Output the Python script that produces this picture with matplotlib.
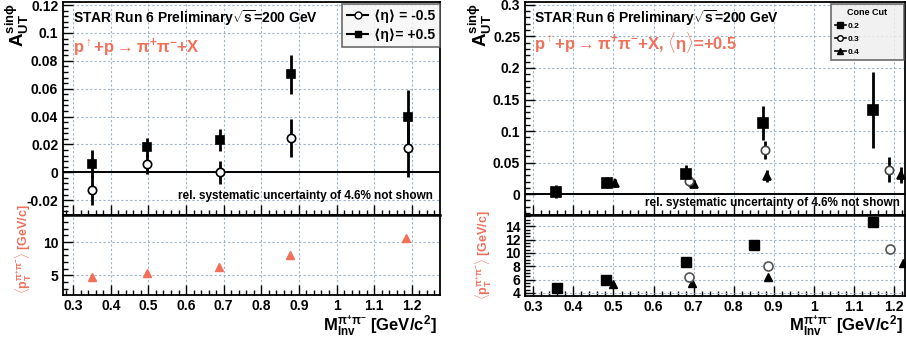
import matplotlib
matplotlib.use('Agg')
import matplotlib.pyplot as plt
from matplotlib.lines import Line2D
from matplotlib.ticker import MultipleLocator, FuncFormatter

plt.rcParams['font.family'] = ['Liberation Sans', 'DejaVu Sans']
plt.rcParams['font.weight'] = 'bold'
plt.rcParams['mathtext.fontset'] = 'custom'
plt.rcParams['mathtext.rm'] = 'Liberation Sans:bold'
plt.rcParams['mathtext.it'] = 'Liberation Sans:bold'
plt.rcParams['mathtext.bf'] = 'Liberation Sans:bold'
plt.rcParams['mathtext.sf'] = 'Liberation Sans:bold'
plt.rcParams['mathtext.default'] = 'bf'

# ---------------- data: left panel (eta = -0.5 / +0.5) ----------------
m_left = [0.351, 0.495, 0.689, 0.878, 1.189]
a_eta_pos = [0.006, 0.0179, 0.0231, 0.0702, 0.0394]
a_eta_pos_err = [0.010, 0.007, 0.008, 0.0138, 0.0196]
a_eta_neg = [-0.0127, 0.006, 0.0, 0.0248, 0.0172]
a_eta_neg_err = [0.011, 0.0075, 0.0083, 0.0137, 0.0203]
m_left_pt = [0.351, 0.495, 0.687, 0.876, 1.184]
pt_left = [4.7, 5.36, 6.26, 8.0, 10.6]

# ---------------- data: right panel (cone cuts) ----------------
m_c02 = [0.357, 0.483, 0.682, 0.873, 1.148]
a_c02 = [0.004, 0.018, 0.032, 0.1135, 0.1336]
e_c02 = [0.010, 0.009, 0.015, 0.027, 0.060]
m_c03 = [0.688, 0.879, 1.188]
a_c03 = [0.021, 0.070, 0.0385]
e_c03 = [0.008, 0.0135, 0.020]
m_c04 = [0.503, 0.700, 0.883, 1.218]
a_c04 = [0.0174, 0.016, 0.029, 0.0306]
e_c04 = [0.006, 0.006, 0.010, 0.013]

pm_c02 = [0.358, 0.482, 0.681, 0.852, 1.148]
pt_c02 = [4.75, 6.0, 8.65, 11.25, 14.65]
pm_c03 = [0.688, 0.887, 1.190]
pt_c03 = [6.4, 8.05, 10.6]
pm_c04 = [0.500, 0.697, 0.886, 1.222]
pt_c04 = [5.3, 5.55, 6.4, 8.55]

SALMON = '#f0705a'
GRID = '#9fb4c8'

W, H = 906, 342
fig = plt.figure(figsize=(W / 100, H / 100), dpi=100)


def box(x0, y0, x1, y1):
    return [x0 / W, 1 - y1 / H, (x1 - x0) / W, (y1 - y0) / H]


def fmt(v, p):
    v = round(v, 6)
    if v == 0:
        return '0'
    return f'{v:g}'


def style(ax, xlim, ylim, ymaj, ymin, show_xlabels):
    ax.set_xlim(*xlim)
    ax.set_ylim(*ylim)
    ax.xaxis.set_major_locator(MultipleLocator(0.1))
    ax.xaxis.set_minor_locator(MultipleLocator(0.02))
    ax.yaxis.set_major_locator(MultipleLocator(ymaj))
    ax.yaxis.set_minor_locator(MultipleLocator(ymin))
    ax.xaxis.set_major_formatter(FuncFormatter(fmt))
    ax.yaxis.set_major_formatter(FuncFormatter(fmt))
    ax.tick_params(which='both', direction='in', top=False, right=False,
                   labelsize=10, width=1.0)
    ax.tick_params(which='major', length=7)
    ax.tick_params(which='minor', length=3.5)
    if not show_xlabels:
        ax.tick_params(axis='x', labelbottom=False)
    else:
        ax.tick_params(axis='x', pad=3)
    for lab in ax.get_xticklabels() + ax.get_yticklabels():
        lab.set_fontweight('bold')
    ax.grid(True, which='major', linestyle=(0, (2, 2)), color=GRID, linewidth=0.8)
    for s in ax.spines.values():
        s.set_linewidth(1.3)
    ax.set_axisbelow(True)


def ebar(ax, x, y, e, marker, filled=True, ms=6, ec='black'):
    ax.errorbar(x, y, yerr=e, fmt=marker, color='black', ecolor='black',
                elinewidth=2.0, capsize=0, ms=ms,
                mfc='black' if filled else 'white', mec=ec, mew=1.2, zorder=3)


A_LABEL = r'A$_{UT}^{sin\phi}$'
PT_LABEL = r'$\langle$p$_{T}^{\pi^{+}\pi^{-}}\rangle$ [GeV/c]'
M_LABEL = r'M$_{Inv}^{\pi^{+}\pi^{-}}$ [GeV/c$^{2}$]'
TITLE = r'STAR Run 6 Preliminary$\sqrt{s}$=200 GeV'
SYST = 'rel. systematic uncertainty of 4.6% not shown'

# ================= LEFT PANEL =================
axLt = fig.add_axes(box(63, 2, 440, 215))
axLb = fig.add_axes(box(63, 215, 440, 295))
style(axLt, (0.273, 1.275), (-0.0306, 0.1222), 0.02, 0.004, False)
style(axLb, (0.273, 1.275), (2.05, 14.05), 5, 1, True)
axLb.spines['top'].set_linewidth(1.8)

axLt.axhline(0, color='black', lw=1.4, zorder=2)
ebar(axLt, m_left, a_eta_neg, a_eta_neg_err, 'o', filled=False, ms=6)
ebar(axLt, m_left, a_eta_pos, a_eta_pos_err, 's', filled=True, ms=6)
axLb.plot(m_left_pt, pt_left, linestyle='none', marker='^', color=SALMON, ms=6, zorder=3)

axLt.text(0.027, 0.925, TITLE, transform=axLt.transAxes,
          fontsize=10, fontweight='bold', ha='left', va='center')
axLt.text(0.027, 0.785, r'p$^{\uparrow}$+p$\rightarrow\pi^{+}\pi^{-}$+X', transform=axLt.transAxes,
          fontsize=12, fontweight='bold', color=SALMON, ha='left', va='center')
axLt.text(0.982, 0.089, SYST, transform=axLt.transAxes,
          fontsize=8.5, fontweight='bold', ha='right', va='center')

h_neg = Line2D([0], [0], marker='o', color='black', mfc='white', mec='black', lw=1.5, ms=5)
h_pos = Line2D([0], [0], marker='s', color='black', mfc='black', mec='black', lw=1.5, ms=5)
legL = axLt.legend([h_neg, h_pos], ['⟨η⟩ = -0.5', '⟨η⟩= +0.5'], loc='upper right',
                   bbox_to_anchor=(0.999, 0.99), fontsize=10, frameon=True, fancybox=False,
                   edgecolor='#555555', borderpad=0.35, handlelength=1.5, labelspacing=0.35,
                   handletextpad=0.4, borderaxespad=0)
legL.get_frame().set_linewidth(1.3)
legL.get_frame().set_facecolor('#f6f6f6')
for t in legL.get_texts():
    t.set_fontweight('bold')

fig.text(17 / W, 1 - 25 / H, A_LABEL, rotation=90, fontsize=13.5,
         fontweight='bold', ha='center', va='center')
fig.text(24 / W, 1 - 249 / H, PT_LABEL, rotation=90,
         fontsize=9, color=SALMON, ha='center', va='center')
fig.text(437 / W, 1 - 326 / H, M_LABEL, fontsize=12, ha='right', va='center')

# ================= RIGHT PANEL =================
axRt = fig.add_axes(box(525, 2, 905, 215))
axRb = fig.add_axes(box(525, 215, 905, 296))
style(axRt, (0.279, 1.228), (-0.033, 0.3045), 0.05, 0.01, False)
style(axRb, (0.279, 1.228), (3.55, 15.7), 2, 0.5, True)
axRb.spines['top'].set_linewidth(1.8)

axRt.axhline(0, color='black', lw=1.4, zorder=2)
ebar(axRt, m_c04, a_c04, e_c04, '^', filled=True, ms=6)
ebar(axRt, m_c03, a_c03, e_c03, 'o', filled=False, ms=6, ec='#444444')
ebar(axRt, m_c02, a_c02, e_c02, 's', filled=True, ms=7)

axRb.plot(pm_c04, pt_c04, linestyle='none', marker='^', color='black', ms=6, zorder=3)
axRb.plot(pm_c03, pt_c03, linestyle='none', marker='o', mfc='white', mec='#555555', mew=1.2, ms=6.5, zorder=3)
axRb.plot(pm_c02, pt_c02, linestyle='none', marker='s', color='black', ms=7, zorder=3)

axRt.text(0.024, 0.925, TITLE, transform=axRt.transAxes,
          fontsize=10, fontweight='bold', ha='left', va='center')
axRt.text(0.024, 0.81, r'p$^{\uparrow}$+p$\rightarrow\pi^{+}\pi^{-}$+X, $\langle\eta\rangle$=+0.5',
          transform=axRt.transAxes, fontsize=12, fontweight='bold', color=SALMON,
          ha='left', va='center')
axRt.text(0.987, 0.056, SYST, transform=axRt.transAxes,
          fontsize=8.5, fontweight='bold', ha='right', va='center')

h2 = Line2D([0], [0], marker='s', color='black', mfc='black', lw=1.2, ms=4)
h3 = Line2D([0], [0], marker='o', color='black', mfc='white', mec='black', lw=1.2, ms=4)
h4 = Line2D([0], [0], marker='^', color='black', mfc='black', lw=1.2, ms=4)
legR = axRt.legend([h2, h3, h4], ['0.2', '0.3', '0.4'], title='Cone Cut', loc='upper left',
                   bbox_to_anchor=(0.805, 0.74, 0.192, 0.25), mode='expand',
                   fontsize=6, title_fontsize=6.5, frameon=True,
                   fancybox=False, edgecolor='#555555', borderpad=0.5, handlelength=1.3,
                   labelspacing=0.6, handletextpad=0.2, borderaxespad=0)
legR.get_frame().set_linewidth(1.3)
legR.get_frame().set_facecolor('#eeeeee')
legR.get_title().set_fontweight('bold')
for t in legR.get_texts():
    t.set_fontweight('bold')

fig.text(480 / W, 1 - 25 / H, A_LABEL, rotation=90, fontsize=13.5,
         fontweight='bold', ha='center', va='center')
fig.text(484 / W, 1 - 255 / H, PT_LABEL, rotation=90,
         fontsize=9, color=SALMON, ha='center', va='center')
fig.text(903 / W, 1 - 326 / H, M_LABEL, fontsize=12, ha='right', va='center')

fig.savefig('out.png', dpi=100)
